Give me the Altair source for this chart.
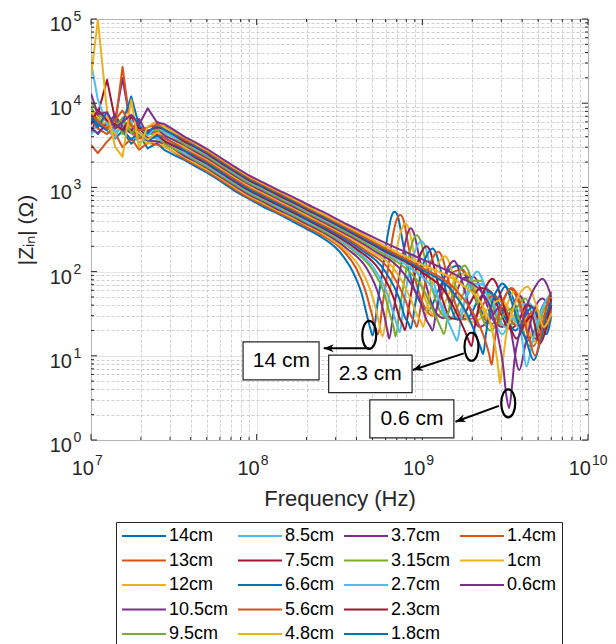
import altair as alt
import pandas as pd

# ---------------- series ----------------
LABELS = ["14cm", "13cm", "12cm", "10.5cm", "9.5cm", "8.5cm", "7.5cm", "6.6cm", "5.6cm",
          "4.8cm", "3.7cm", "3.15cm", "2.7cm", "2.3cm", "1.8cm", "1.4cm", "1cm", "0.6cm"]
COLORS = ["#0072BD", "#D95319", "#EDB120", "#7E2F8E", "#77AC30", "#4DBEEE", "#A2142F",
          "#0072BD", "#D95319", "#EDB120", "#7E2F8E", "#77AC30", "#4DBEEE", "#A2142F",
          "#0072BD", "#D95319", "#EDB120", "#7E2F8E"]
# empty slot that keeps the 4th legend column short, as in the original legend
LEGEND_BLANK = " "

# low-frequency (noisy) part, MHz
LF_MHZ = [10, 11, 12.5, 14, 15.5, 17.5, 19.5, 22, 25, 28, 32, 37, 43]
LF_Z = [
    [5200, 4300, 6000, 3800, 4700, 3300, 4200, 2900, 3350, 2750, 2400, 2100, 1760],
    [3200, 2550, 3500, 4400, 3000, 3800, 2800, 3400, 3200, 3050, 2580, 2150, 1850],
    [6000, 5200, 7000, 4400, 5500, 5000, 4000, 3300, 3650, 2980, 2620, 2290, 1910],
    [4500, 7000, 5200, 6400, 19800, 5000, 4000, 3600, 3500, 3320, 2820, 2340, 2020],
    [9000, 6500, 5000, 7200, 4300, 5800, 3900, 4600, 3950, 3250, 2850, 2490, 2080],
    [4200, 5800, 4700, 3900, 6000, 4500, 3400, 3900, 3800, 3600, 3050, 2530, 2180],
    [5600, 7500, 18900, 6300, 5100, 4400, 5200, 3800, 4250, 3500, 3080, 2690, 2240],
    [7000, 5600, 4800, 6600, 4900, 3700, 4500, 3600, 4100, 3880, 3280, 2720, 2350],
    [6400, 5000, 4300, 5400, 27000, 4600, 3800, 4300, 4600, 3800, 3330, 2910, 2430],
    [8000, 6800, 5400, 4300, 6200, 5100, 4400, 3700, 4450, 4250, 3580, 2970, 2560],
    [5000, 4400, 5800, 7200, 5300, 4700, 6500, 4200, 5000, 4100, 3620, 3160, 2640],
    [10500, 7600, 6000, 5200, 6700, 4400, 5300, 4600, 4850, 4600, 3880, 3230, 2780],
    [31000, 11000, 5600, 4600, 5000, 6200, 5600, 4100, 5400, 4450, 3930, 3430, 2870],
    [5800, 8400, 6200, 5600, 4800, 6900, 5000, 4700, 5200, 4900, 4150, 3450, 2980],
    [6600, 5200, 7800, 5000, 5900, 12000, 5400, 4400, 5750, 4750, 4190, 3660, 3050],
    [7400, 6100, 5000, 6300, 8200, 5400, 4700, 5200, 5550, 5250, 4440, 3700, 3190],
    [20600, 97000, 8000, 3000, 2300, 11000, 3000, 5300, 6100, 5100, 4480, 3900, 3270],
    [13000, 7400, 7800, 5000, 6000, 7300, 5600, 8700, 5950, 5600, 4750, 3960, 3400],
]

# capacitive slope part, MHz
MID_MHZ = [50, 62, 75, 90, 110, 135, 165, 200, 250]
MID_Z = [
    [1495, 1150, 890, 730, 585, 485, 392, 322, 252],
    [1560, 1195, 935, 752, 622, 500, 418, 338, 270],
    [1630, 1250, 975, 790, 645, 528, 432, 357, 282],
    [1700, 1300, 1020, 818, 675, 545, 452, 369, 296],
    [1770, 1350, 1060, 856, 700, 572, 468, 386, 307],
    [1840, 1395, 1108, 885, 730, 590, 490, 398, 321],
    [1910, 1455, 1145, 922, 753, 616, 505, 416, 331],
    [1980, 1500, 1190, 953, 785, 636, 526, 429, 345],
    [2070, 1580, 1240, 1000, 818, 668, 548, 451, 359],
    [2160, 1645, 1300, 1042, 857, 695, 574, 469, 377],
    [2250, 1720, 1350, 1090, 890, 727, 597, 491, 392],
    [2345, 1785, 1410, 1130, 930, 754, 623, 509, 409],
    [2440, 1860, 1460, 1180, 963, 786, 646, 531, 424],
    [2510, 1905, 1505, 1208, 993, 806, 666, 544, 437],
    [2600, 1980, 1560, 1255, 1027, 837, 689, 566, 452],
    [2690, 2045, 1615, 1298, 1066, 866, 714, 584, 469],
    [2780, 2120, 1670, 1344, 1100, 896, 738, 606, 484],
    [2875, 2190, 1725, 1388, 1140, 930, 770, 635, 515],
]

# resonance part, MHz
TAIL_MHZ = [
    [320, 385, 430, 460, 487, 500, 540, 580, 620, 655, 680, 710, 760, 850, 960, 1080, 1250, 1450, 1650, 1900, 2200, 2500, 2800, 3150, 3500, 3900, 4300, 4800, 5300, 6000],
    [330, 400, 450, 490, 520, 540, 575, 620, 660, 700, 735, 770, 825, 920, 1030, 1150, 1320, 1520, 1750, 2000, 2300, 2650, 3000, 3400, 3800, 4250, 4700, 5200, 6000],
    [340, 420, 480, 525, 558, 575, 615, 660, 710, 755, 790, 830, 890, 990, 1100, 1230, 1420, 1640, 1880, 2150, 2450, 2800, 3200, 3600, 4050, 4500, 5000, 5500, 6000],
    [350, 460, 530, 580, 615, 630, 670, 720, 775, 820, 850, 890, 960, 1080, 1200, 1350, 1550, 1780, 2050, 2350, 2700, 3050, 3450, 3850, 4300, 4800, 5300, 6000],
    [370, 500, 590, 640, 675, 690, 730, 785, 840, 890, 925, 970, 1050, 1170, 1300, 1470, 1700, 1950, 2250, 2600, 2950, 3350, 3750, 4200, 4650, 5100, 5600, 6000],
    [380, 510, 620, 675, 710, 730, 770, 820, 880, 940, 990, 1040, 1120, 1240, 1380, 1580, 1820, 2080, 2400, 2750, 3150, 3550, 4000, 4450, 4950, 5450, 6000],
    [400, 550, 670, 730, 765, 785, 830, 880, 945, 1010, 1060, 1115, 1200, 1330, 1480, 1700, 1960, 2240, 2580, 2950, 3350, 3800, 4250, 4750, 5250, 5700, 6000],
    [420, 600, 725, 790, 828, 850, 900, 955, 1020, 1095, 1150, 1210, 1310, 1450, 1630, 1880, 2150, 2450, 2800, 3200, 3650, 4100, 4600, 5100, 5600, 6000],
    [440, 650, 790, 860, 902, 925, 980, 1040, 1110, 1190, 1250, 1315, 1420, 1580, 1780, 2050, 2350, 2700, 3100, 3550, 4000, 4500, 5000, 5500, 6000],
    [470, 700, 860, 940, 985, 1010, 1070, 1140, 1215, 1300, 1370, 1440, 1560, 1740, 1960, 2250, 2600, 3000, 3450, 3900, 4400, 4900, 5450, 6000],
    [500, 780, 975, 1065, 1120, 1150, 1220, 1300, 1390, 1480, 1550, 1630, 1760, 1960, 2220, 2550, 2950, 3350, 3850, 4200, 4700, 5300, 6000],
    [530, 850, 1000, 1150, 1250, 1315, 1350, 1430, 1520, 1620, 1720, 1800, 1890, 2040, 2270, 2580, 2950, 3400, 3900, 4400, 4900, 5450, 6000],
    [560, 900, 1150, 1350, 1480, 1570, 1620, 1710, 1810, 1930, 2050, 2150, 2260, 2440, 2700, 3050, 3500, 3950, 4250, 4600, 5100, 5600, 6000],
    [580, 1000, 1400, 1650, 1820, 1920, 1980, 2070, 2190, 2330, 2500, 2650, 2780, 3000, 3300, 3700, 4150, 4600, 5100, 5600, 6000],
    [600, 1000, 1500, 1850, 2100, 2250, 2330, 2420, 2540, 2680, 2880, 3050, 3200, 3450, 3800, 4200, 4700, 5200, 5600, 6000],
    [620, 1000, 1600, 2050, 2350, 2530, 2620, 2720, 2850, 3000, 3220, 3450, 3650, 3950, 4350, 4800, 5250, 5650, 6000],
    [640, 1000, 1700, 2300, 2550, 2750, 2880, 2940, 3020, 3200, 3500, 3850, 4100, 4300, 4550, 4950, 5400, 6000],
    [350, 530, 700, 1050, 1660, 2300, 2650, 2900, 3080, 3200, 3340, 3480, 3600, 3900, 4300, 4800, 5300, 5650, 6000],
]
TAIL_Z = [
    [168, 95, 55, 32, 20.5, 17.5, 46, 115, 284, 470, 514, 460, 230, 85, 45, 34, 60, 105, 118, 75, 38, 28, 42, 66, 50, 26, 15, 21, 38, 52],
    [180, 108, 62, 34, 22, 18, 40, 105, 250, 415, 470, 410, 200, 72, 38, 30, 55, 98, 105, 62, 30, 24, 40, 62, 44, 20, 13, 24, 45],
    [182, 112, 64, 36, 21, 17, 38, 92, 210, 330, 372, 320, 165, 66, 36, 29, 50, 92, 95, 55, 28, 22, 38, 58, 40, 18, 14, 30, 42],
    [188, 110, 62, 35, 20, 16, 34, 82, 185, 295, 328, 285, 145, 58, 33, 28, 48, 84, 86, 50, 26, 22, 36, 52, 34, 16, 20, 38],
    [188, 105, 55, 30, 21, 17, 36, 85, 170, 248, 271, 240, 128, 55, 32, 27, 46, 78, 78, 44, 24, 22, 38, 48, 28, 15, 26, 46],
    [188, 110, 52, 30, 22, 19, 40, 85, 150, 210, 230, 200, 110, 50, 30, 28, 46, 72, 68, 38, 22, 24, 40, 42, 24, 18, 34],
    [186, 105, 49, 28, 23, 20, 38, 76, 135, 185, 200, 175, 96, 45, 28, 27, 44, 64, 58, 33, 21, 25, 40, 36, 20, 28, 40],
    [187, 99, 48, 28, 24, 21, 38, 74, 128, 172, 188, 165, 92, 44, 27, 28, 44, 58, 48, 27, 20, 28, 38, 28, 18, 30],
    [186, 97, 46, 29, 25, 22, 39, 72, 122, 160, 172, 150, 86, 42, 27, 28, 42, 52, 40, 24, 22, 32, 34, 20, 36],
    [184, 97, 45, 29, 25, 22, 38, 68, 110, 142, 152, 134, 78, 38, 25, 28, 40, 46, 32, 21, 26, 36, 26, 30],
    [182, 93, 43, 26, 22, 20, 36, 62, 98, 125, 135, 118, 70, 34, 22, 27, 38, 24, 6.8, 14, 34, 48, 36],
    [181, 96, 65, 36, 25, 20, 18, 32, 55, 85, 110, 118, 104, 62, 30, 20, 27, 36, 26, 13, 20, 36, 50],
    [180, 101, 64, 35, 22, 17, 15, 27, 46, 70, 92, 100, 88, 54, 27, 18, 28, 18, 7.5, 14, 30, 46, 56],
    [179, 98, 54, 29, 19, 14.5, 13, 22, 38, 56, 74, 82, 74, 48, 26, 16, 24, 30, 14, 22, 48],
    [180, 105, 60, 32, 18, 12.5, 10.5, 18, 32, 48, 64, 72, 66, 45, 24, 16, 8.9, 16, 30, 44],
    [181, 111, 60, 31, 17, 10.5, 7.8, 14, 26, 40, 55, 64, 58, 38, 18, 10, 20, 40, 58],
    [188, 120, 72, 40, 26, 13, 6.8, 4.7, 7, 17, 34, 54, 63, 66, 58, 36, 22, 32],
    [365, 245, 190, 134, 87, 56, 32, 15, 7.4, 3.6, 2.4, 4.4, 8.9, 20, 40, 66, 82, 70, 50],
]

# ---------------- axes ticks ----------------
X_MAJOR = [1e7, 1e8, 1e9, 1e10]
X_EXP = ["7", "8", "9", "10"]
Y_MAJOR = [1, 10, 100, 1e3, 1e4, 1e5]
Y_EXP = ["0", "1", "2", "3", "4", "5"]
X_MINOR = [m * 10 ** e for e in (7, 8, 9) for m in range(2, 10)]
Y_MINOR = [m * 10 ** e for e in range(0, 5) for m in range(2, 10)]

# ---------------- annotations ----------------
ANN_TEXT = ["14 cm", "2.3 cm", "0.6 cm"]
ELL_HZ = [4.78e8, 1.98e9, 3.30e9]
ELL_Z = [17.7, 12.8, 2.73]
ARR_HZ0 = [4.78e8, 1.78e9, 2.90e9]
ARR_Z0 = [12.3, 10.7, 2.54]
ARR_HZ1 = [2.54e8, 8.75e8, 1.585e9]
ARR_Z1 = [12.3, 6.78, 1.65]
ARR_ANGLE = [180, 162, 160]
BOX_HZ0 = [8.28e7, 2.72e8, 4.82e8]
BOX_HZ1 = [2.38e8, 8.67e8, 1.55e9]
BOX_Z0 = [5.17, 3.65, 1.06]
BOX_Z1 = [14.6, 10.2, 2.99]
TXT_HZ = [1.41e8, 4.85e8, 8.65e8]
TXT_Z = [8.67, 6.1, 1.77]

# ---------------- build tables ----------------
W, H = 497, 421
FONT = "Liberation Sans"
INK = "#262626"

rows_lf, rows_hf = [], []
for i, lab in enumerate(LABELS):
    assert len(TAIL_MHZ[i]) == len(TAIL_Z[i]), lab
    for f, z in zip(LF_MHZ + MID_MHZ[:1], LF_Z[i] + MID_Z[i][:1]):
        rows_lf.append({"series": lab, "freq": f * 1e6, "z": z, "k": i})
    for f, z in zip(MID_MHZ + TAIL_MHZ[i], MID_Z[i] + TAIL_Z[i]):
        rows_hf.append({"series": lab, "freq": f * 1e6, "z": z, "k": i})
df_lf = pd.DataFrame(rows_lf)
df_hf = pd.DataFrame(rows_hf)

XS = alt.Scale(type="log", domain=[1e7, 1e10], nice=False)
YS = alt.Scale(type="log", domain=[1, 1e5], nice=False)
MAJOR_TEST = "abs(log(datum.value)/LN10 - round(log(datum.value)/LN10)) < 0.001"

XA = alt.Axis(
    values=X_MAJOR + X_MINOR, grid=True, domain=False, ticks=False, labels=False,
    gridColor={"condition": {"test": MAJOR_TEST, "value": "#dcdcdc"}, "value": "#cfcfcf"},
    gridDash={"condition": {"test": MAJOR_TEST, "value": [1, 0]}, "value": [3, 2]},
    gridWidth=1, title="Frequency (Hz)", titleFontSize=22, titleFontWeight="normal",
    titleColor=INK, titleX=W / 2, titleY=65, titleAlign="center", titleBaseline="alphabetic",
)
YA = alt.Axis(
    values=Y_MAJOR + Y_MINOR, grid=True, domain=False, ticks=False, labels=False,
    gridColor={"condition": {"test": MAJOR_TEST, "value": "#dcdcdc"}, "value": "#cfcfcf"},
    gridDash={"condition": {"test": MAJOR_TEST, "value": [1, 0]}, "value": [3, 2]},
    gridWidth=1, title="|Zᵢₙ| (Ω)", titleFontSize=21, titleFontWeight="normal",
    titleColor=INK, titleX=-59, titleY=H / 2, titleAngle=270, titleAlign="center",
    titleBaseline="alphabetic",
)


def X(field):
    return alt.X(field, scale=XS, axis=XA)


def Y(field):
    return alt.Y(field, scale=YS, axis=YA)


legend = alt.Legend(
    orient="none", legendX=25, legendY=503, columns=4, title=None,
    symbolType="stroke", symbolSize=1936, symbolStrokeWidth=2, symbolOffset=0,
    clipHeight=18, labelOffset=2, labelFontSize=18, labelColor="#000000", labelLimit=200,
    rowPadding=6.5, columnPadding=8, padding=5, strokeColor=INK, fillColor="white",
)
color = alt.Color("series:N",
                  scale=alt.Scale(domain=LABELS + [LEGEND_BLANK], range=COLORS + ["#ffffff"]),
                  legend=legend)

lines_lf = alt.Chart(df_lf).mark_line(strokeWidth=2, clip=True, strokeJoin="round").encode(
    x=X("freq:Q"), y=Y("z:Q"), color=color, detail="k:O")
lines_hf = alt.Chart(df_hf).mark_line(strokeWidth=2, clip=True, interpolate="monotone",
                                       strokeJoin="round").encode(
    x=X("freq:Q"), y=Y("z:Q"), color=color, detail="k:O")

# inward tick marks on all four sides
tick_layers = []
for vals, ln in ((X_MAJOR, 6), (X_MINOR, 3)):
    d = pd.DataFrame({"v": vals})
    tick_layers.append(alt.Chart(d).mark_rule(color=INK, strokeWidth=1).encode(
        x=X("v:Q"), y=alt.value(H), y2=alt.value(H - ln)))
    tick_layers.append(alt.Chart(d).mark_rule(color=INK, strokeWidth=1).encode(
        x=X("v:Q"), y=alt.value(0), y2=alt.value(ln)))
for vals, ln in ((Y_MAJOR, 6), (Y_MINOR, 3)):
    d = pd.DataFrame({"v": vals})
    tick_layers.append(alt.Chart(d).mark_rule(color=INK, strokeWidth=1).encode(
        y=Y("v:Q"), x=alt.value(0), x2=alt.value(ln)))
    tick_layers.append(alt.Chart(d).mark_rule(color=INK, strokeWidth=1).encode(
        y=Y("v:Q"), x=alt.value(W), x2=alt.value(W - ln)))

# tick labels 10^n
xl = pd.DataFrame({"v": X_MAJOR, "base": "10", "exp": X_EXP})
yl = pd.DataFrame({"v": Y_MAJOR, "base": "10", "exp": Y_EXP})
xbase = alt.Chart(xl).mark_text(align="right", baseline="alphabetic", dx=3, fontSize=20,
                                color=INK).encode(
    x=X("v:Q"), y=alt.value(H + 35), text="base:N")
xexp = alt.Chart(xl).mark_text(align="left", baseline="alphabetic", dx=4, fontSize=14,
                               color=INK).encode(
    x=X("v:Q"), y=alt.value(H + 25), text="exp:N")
ybase = alt.Chart(yl).mark_text(align="right", baseline="alphabetic", dx=-19, dy=12,
                                fontSize=20, color=INK).encode(
    y=Y("v:Q"), x=alt.value(0), text="base:N")
yexp = alt.Chart(yl).mark_text(align="left", baseline="alphabetic", dx=-17.5, dy=2,
                               fontSize=14, color=INK).encode(
    y=Y("v:Q"), x=alt.value(0), text="exp:N")

# annotations
ann = pd.DataFrame({
    "text": ANN_TEXT, "ef": ELL_HZ, "ez": ELL_Z,
    "af0": ARR_HZ0, "az0": ARR_Z0, "af1": ARR_HZ1, "az1": ARR_Z1, "ang": ARR_ANGLE,
    "bf0": BOX_HZ0, "bf1": BOX_HZ1, "bz0": BOX_Z0, "bz1": BOX_Z1,
    "tf": TXT_HZ, "tz": TXT_Z,
})
ELLIPSE = "M0,-1A0.5,1,0,1,1,0,1A0.5,1,0,1,1,0,-1Z"
ARROWHEAD = "M0,0L-2,-0.8L-1.4,0L-2,0.8Z"

boxes = alt.Chart(ann).mark_rect(fill="white", stroke=INK, strokeWidth=1.2).encode(
    x=X("bf0:Q"), x2="bf1:Q", y=Y("bz0:Q"), y2="bz1:Q")
texts = alt.Chart(ann).mark_text(fontSize=21, color="#000000").encode(
    x=X("tf:Q"), y=Y("tz:Q"), text="text:N")
ellipses = alt.Chart(ann).mark_point(shape=ELLIPSE, size=784, filled=False, color="#000000",
                                     strokeWidth=2.2, opacity=1).encode(
    x=X("ef:Q"), y=Y("ez:Q"))
shafts = alt.Chart(ann).mark_rule(color="#000000", strokeWidth=2).encode(
    x=X("af0:Q"), x2="af1:Q", y=Y("az0:Q"), y2="az1:Q")
heads = alt.Chart(ann).mark_point(shape=ARROWHEAD, size=100, filled=True, color="#000000",
                                  opacity=1).encode(
    x=X("af1:Q"), y=Y("az1:Q"), angle=alt.Angle("ang:Q", scale=None))

chart = alt.layer(
    lines_lf, lines_hf, *tick_layers, xbase, xexp, ybase, yexp,
    boxes, texts, ellipses, shafts, heads,
).properties(
    width=W, height=H,
    padding={"left": 83, "top": 11, "right": 20, "bottom": 230},
    autosize=alt.AutoSizeParams(type="none"),
).configure(font=FONT, background="white").configure_view(stroke="#404040", strokeWidth=1)

chart.save("out.html", embed_options={"renderer": "svg", "actions": False})
